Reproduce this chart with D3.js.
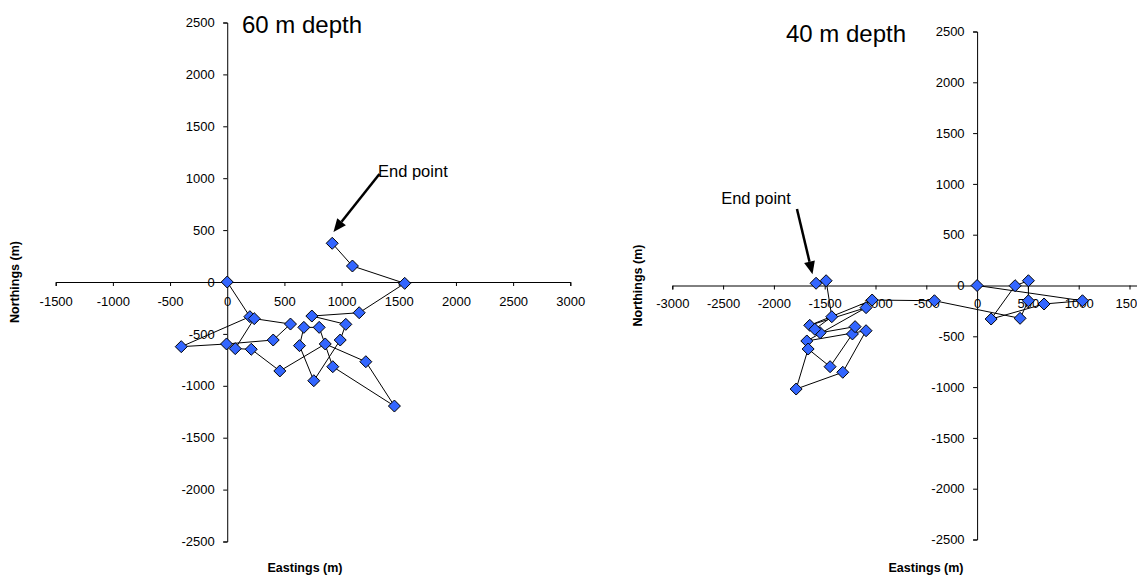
<!DOCTYPE html>
<html>
<head>
<meta charset="utf-8">
<script src="https://cdn.jsdelivr.net/npm/d3@7"></script>
<style>
  html, body { margin: 0; padding: 0; background: #ffffff; }
  svg { display: block; font-family: "Liberation Sans", Arial, sans-serif; }
</style>
</head>
<body>
<svg id="chart" width="1137" height="577"></svg>
<script>
// Drifter track at 60 m depth: positions relative to release point (m), in time order
const east60  = [0, 198, -402, -6, 402, 553, 236, 70, 210, 460, 857, 1212, 1462, 923, 804, 670, 632, 757, 988, 1037, 740, 1154, 1552, 1095, 918];
const north60 = [0, -334, -623, -597, -559, -405, -353, -642, -648, -857, -597, -768, -1195, -816, -437, -437, -613, -951, -559, -408, -328, -296, -13, 154, 373];

// Drifter track at 40 m depth
const east40  = [0, 1037, 659, 138, 374, 505, 505, 423, -420, -1033, -1647, -1093, -1676, -1093, -1322, -1781, -1663, -1447, -1227, -1201, -1545, -1597, -1430, -1486, -1585];
const north40 = [0, -150, -182, -330, -2, 47, -150, -323, -150, -143, -392, -218, -546, -445, -854, -1019, -625, -799, -477, -405, -465, -431, -307, 47, 22];

// Axis ticks
const ticksX60 = [-1500, -1000, -500, 0, 500, 1000, 1500, 2000, 2500, 3000];
const ticksX40 = [-3000, -2500, -2000, -1500, -1000, -500, 0, 500, 1000, 1500, 2000];
const ticksY   = [-2500, -2000, -1500, -1000, -500, 0, 500, 1000, 1500, 2000, 2500];

const titles = ["60 m depth", "40 m depth"];
const endLabel = "End point";

const svg = d3.select("#chart");
const fill = "#3366ff";

function panel(cfg) {
  const x = d3.scaleLinear().domain(cfg.xDomain).range(cfg.xRange);
  const y = d3.scaleLinear().domain([-2500, 2500]).range(cfg.yRange);
  const g = svg.append("g");

  // axes crossing at the origin
  const ax = g.append("g")
    .attr("transform", `translate(0,${y(0)})`)
    .call(d3.axisBottom(x).tickValues(cfg.ticksX).tickFormat(d => String(d))
      .tickSize(4).tickSizeOuter(4).tickPadding(cfg.padX));
  const ay = g.append("g")
    .attr("transform", `translate(${x(0)},0)`)
    .call(d3.axisLeft(y).tickValues(ticksY).tickFormat(d => String(d))
      .tickSize(4).tickSizeOuter(4).tickPadding(8.5));
  [ax, ay].forEach(a => {
    a.selectAll("text").attr("font-size", 13).attr("fill", "#000")
      .attr("font-family", "Liberation Sans, Arial, sans-serif");
    a.selectAll("path, line").attr("stroke", "#000").attr("stroke-width", 1);
  });

  // track
  const pts = cfg.ex.map((e, i) => [e, cfg.ny[i]]);
  g.append("path")
    .datum(pts)
    .attr("fill", "none")
    .attr("stroke", "#000")
    .attr("stroke-width", 1)
    .attr("d", d3.line().x(d => x(d[0])).y(d => y(d[1])));

  const r = 6;
  g.selectAll("path.pt")
    .data(pts)
    .join("path")
    .attr("class", "pt")
    .attr("d", `M0,${-r}L${r},0L0,${r}L${-r},0Z`)
    .attr("transform", d => `translate(${x(d[0])},${y(d[1])})`)
    .attr("fill", fill)
    .attr("stroke", "#000")
    .attr("stroke-width", 1);

  // titles
  g.append("text")
    .attr("x", cfg.titlePos[0]).attr("y", cfg.titlePos[1])
    .attr("font-size", 24).attr("fill", "#000")
    .text(cfg.title);

  g.append("text")
    .attr("transform", `translate(${cfg.yLabelX},${y(0)}) rotate(-90)`)
    .attr("text-anchor", "middle")
    .attr("dy", "0.35em")
    .attr("font-size", 12.5).attr("font-weight", "bold")
    .text("Northings (m)");

  g.append("text")
    .attr("x", cfg.xLabelX).attr("y", 572)
    .attr("text-anchor", "middle")
    .attr("font-size", 12.5).attr("font-weight", "bold")
    .text("Eastings (m)");

  // end-point annotation
  const [t0, t1] = cfg.arrow;
  const x0 = x(t0[0]), y0 = y(t0[1]), x1 = x(t1[0]), y1 = y(t1[1]);
  const ang = Math.atan2(y1 - y0, x1 - x0);
  const hl = 13, hw = 5.5;
  const bx = x1 - hl * Math.cos(ang), by = y1 - hl * Math.sin(ang);
  g.append("line")
    .attr("x1", x0).attr("y1", y0).attr("x2", bx).attr("y2", by)
    .attr("stroke", "#000").attr("stroke-width", 2.5);
  g.append("path")
    .attr("d", `M${x1},${y1}L${bx + hw * Math.sin(ang)},${by - hw * Math.cos(ang)}L${bx - hw * Math.sin(ang)},${by + hw * Math.cos(ang)}Z`)
    .attr("fill", "#000");
  g.append("text")
    .attr("x", cfg.labelPos[0]).attr("y", cfg.labelPos[1])
    .attr("text-anchor", cfg.labelAnchor)
    .attr("font-size", 16.5).attr("fill", "#000")
    .text(endLabel);
}

panel({
  xDomain: [-1500, 3000], xRange: [55.7, 570.3], yRange: [541.5, 22.5],
  ticksX: ticksX60, padX: 11,
  ex: east60, ny: north60,
  title: titles[0], titlePos: [242, 33],
  yLabelX: 15, xLabelX: 305,
  arrow: [[1331, 1040], [929, 482]],
  labelPos: [378, 177], labelAnchor: "start"
});

panel({
  xDomain: [-3000, 2000], xRange: [672.3, 1180.3], yRange: [539.5, 31.5],
  ticksX: ticksX40, padX: 9,
  ex: east40, ny: north40,
  title: titles[1], titlePos: [786, 42],
  yLabelX: 638, xLabelX: 926,
  arrow: [[-1773, 753], [-1620, 110]],
  labelPos: [756, 204], labelAnchor: "middle"
});
</script>
</body>
</html>
